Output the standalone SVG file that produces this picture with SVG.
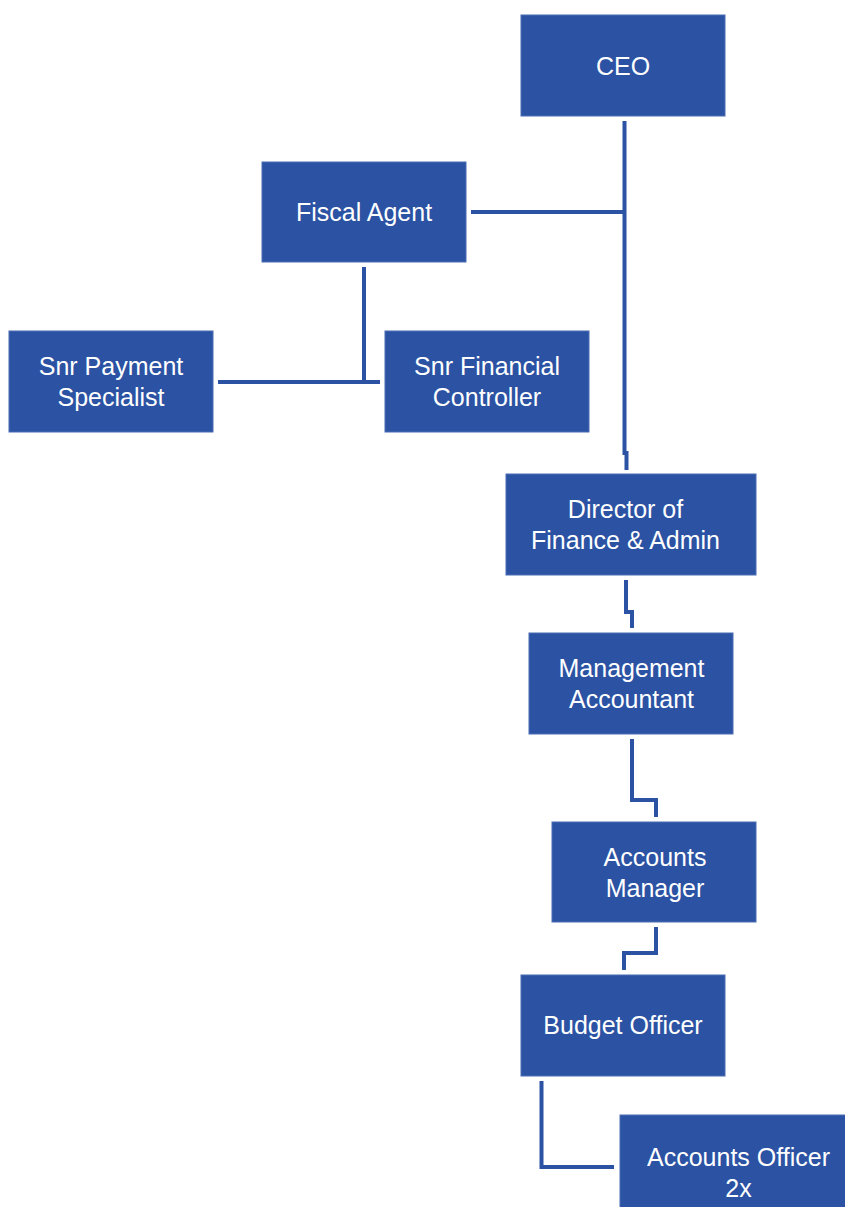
<svg xmlns="http://www.w3.org/2000/svg" width="845" height="1207" viewBox="0 0 845 1207">
<style>
.box{fill:#2B52A3;stroke:#4A6DB3;stroke-width:1}
.t{fill:#ffffff;font-family:"Liberation Sans",Arial,sans-serif;font-size:25px;text-anchor:middle}
.c{fill:none;stroke:#2B52A3;stroke-width:4;stroke-linejoin:miter}
</style>
<rect width="845" height="1207" fill="#ffffff"/>
<g id="connectors">
<path class="c" d="M624.5 121 V453 H626.5 V470"/>
<path class="c" d="M471 212 H624.5"/>
<path class="c" d="M364 267 V382"/>
<path class="c" d="M218 382 H380"/>
<path class="c" d="M626 580 V612 H632 V628"/>
<path class="c" d="M632 739 V800 H656 V817"/>
<path class="c" d="M656 927 V953 H624 V970"/>
<path class="c" d="M541.5 1081 V1167 H614"/>
</g>
<g id="ceo"><rect class="box" x="521" y="15" width="204" height="101"/><text class="t" x="623" y="75">CEO</text></g>
<g id="fiscal-agent"><rect class="box" x="262" y="162" width="204" height="100"/><text class="t" x="364" y="221">Fiscal Agent</text></g>
<g id="snr-payment-specialist"><rect class="box" x="9" y="331" width="204" height="101"/><text class="t" x="111" y="375">Snr Payment</text><text class="t" x="111" y="406">Specialist</text></g>
<g id="snr-financial-controller"><rect class="box" x="385" y="331" width="204" height="101"/><text class="t" x="487" y="375">Snr Financial</text><text class="t" x="487" y="406">Controller</text></g>
<g id="director"><rect class="box" x="506" y="474" width="250" height="101"/><text class="t" x="625.5" y="518">Director of</text><text class="t" x="625.5" y="549">Finance &amp; Admin</text></g>
<g id="management-accountant"><rect class="box" x="529" y="633" width="204" height="101"/><text class="t" x="631.5" y="677">Management</text><text class="t" x="631.5" y="708">Accountant</text></g>
<g id="accounts-manager"><rect class="box" x="552" y="822" width="204" height="100"/><text class="t" x="655" y="866">Accounts</text><text class="t" x="655" y="897">Manager</text></g>
<g id="budget-officer"><rect class="box" x="521" y="975" width="204" height="101"/><text class="t" x="623" y="1034">Budget Officer</text></g>
<g id="accounts-officer"><rect class="box" x="620" y="1115" width="226" height="93"/><text class="t" x="738.5" y="1165.5">Accounts Officer</text><text class="t" x="738.5" y="1196.5">2x</text></g>
</svg>
